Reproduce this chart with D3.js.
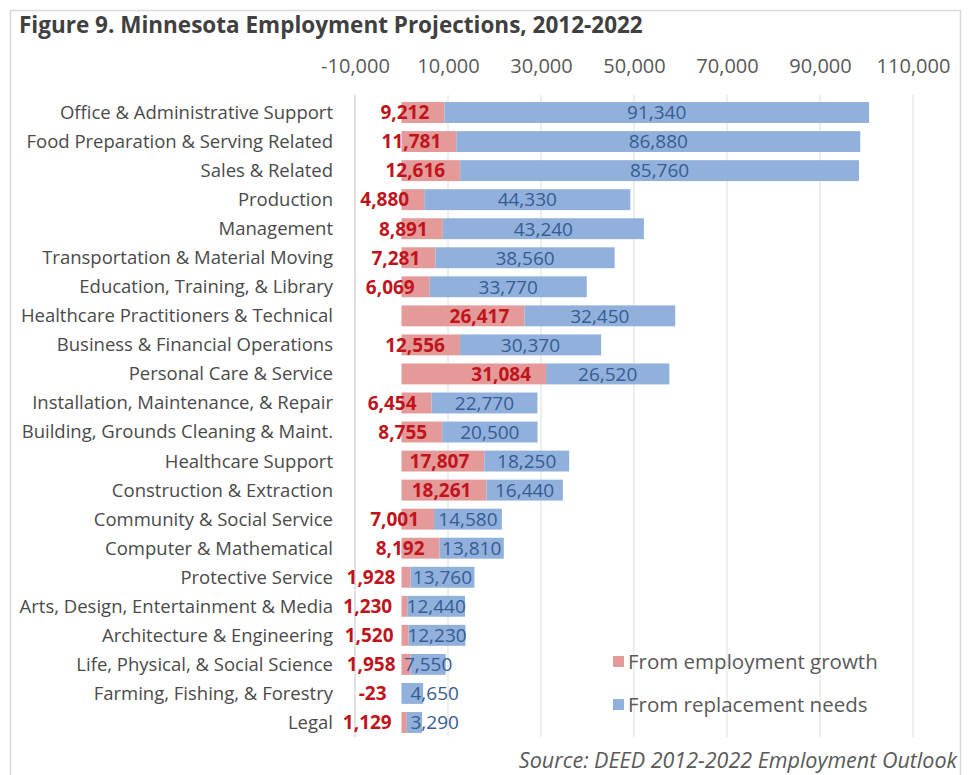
<!DOCTYPE html>
<html>
<head>
<meta charset="utf-8">
<script src="https://cdn.jsdelivr.net/npm/d3@7"></script>
<style>
  html, body { margin: 0; padding: 0; background: #fff; }
  svg { display: block; font-family: "Open Sans", Lato, sans-serif; }
</style>
</head>
<body>
<svg id="chart" width="970" height="775"></svg>
<script>
// Occupational groups, largest total openings first
const categories = [
  "Office & Administrative Support",
  "Food Preparation & Serving Related",
  "Sales & Related",
  "Production",
  "Management",
  "Transportation & Material Moving",
  "Education, Training, & Library",
  "Healthcare Practitioners & Technical",
  "Business & Financial Operations",
  "Personal Care & Service",
  "Installation, Maintenance, & Repair",
  "Building, Grounds Cleaning & Maint.",
  "Healthcare Support",
  "Construction & Extraction",
  "Community & Social Service",
  "Computer & Mathematical",
  "Protective Service",
  "Arts, Design, Entertainment & Media",
  "Architecture & Engineering",
  "Life, Physical, & Social Science",
  "Farming, Fishing, & Forestry",
  "Legal"
];

// Openings from employment growth
const growth = [9212, 11781, 12616, 4880, 8891, 7281, 6069, 26417, 12556, 31084,
                6454, 8755, 17807, 18261, 7001, 8192, 1928, 1230, 1520, 1958, -23, 1129];

// Openings from replacement needs
const replacement = [91340, 86880, 85760, 44330, 43240, 38560, 33770, 32450, 30370, 26520,
                     22770, 20500, 18250, 16440, 14580, 13810, 13760, 12440, 12230, 7550, 4650, 3290];

const tickValues = [-10000, 10000, 30000, 50000, 70000, 90000, 110000];
const seriesNames = ["From employment growth", "From replacement needs"];

const RED = "#e59a9a", BLUE = "#91b1dc";
const RED_TEXT = "#c0141c", BLUE_TEXT = "#365c93";

const svg = d3.select("#chart");
// plain hyphen for negatives
const fmt = d3.formatLocale({ decimal: ".", thousands: ",", grouping: [3], currency: ["$", ""], minus: "-" }).format(",");

// chart frame
svg.append("path")
  .attr("d", "M10.5,775 V10.5 H960.5 V775")
  .attr("fill", "none").attr("stroke", "#d9d9d9").attr("stroke-width", 1.5);

svg.append("text")
  .attr("x", 19).attr("y", 33)
  .attr("font-size", 22.5).attr("font-weight", 700).attr("fill", "#404040")
  .text("Figure 9. Minnesota Employment Projections, 2012-2022");

const x = d3.scaleLinear().domain([-10000, 110000]).range([355, 913]);
const y = d3.scaleBand().domain(categories).range([98, 737]).paddingInner(0.28).paddingOuter(0.14);

// vertical gridlines
svg.append("g").selectAll("line").data(tickValues).join("line")
  .attr("x1", d => x(d)).attr("x2", d => x(d))
  .attr("y1", 95).attr("y2", 737)
  .attr("stroke", d => d === -10000 ? "#c6c6c6" : "#dedede").attr("stroke-width", 1);

// top value axis
const axis = svg.append("g").attr("transform", "translate(0,73)")
  .call(d3.axisTop(x).tickValues(tickValues).tickFormat(fmt).tickSize(0).tickPadding(0));
axis.select(".domain").remove();
axis.selectAll("text")
  .attr("font-family", "'Open Sans', Lato, sans-serif")
  .attr("font-size", 20).attr("fill", "#595959");

// category labels
svg.append("g").selectAll("text").data(categories).join("text")
  .attr("x", 333).attr("y", d => y(d) + y.bandwidth() / 2)
  .attr("dy", "0.35em").attr("text-anchor", "end")
  .attr("font-size", 18.5).attr("fill", "#4a4a4a")
  .text(d => d);

const rows = categories.map((c, i) => ({ c, g: growth[i], r: replacement[i] }));

// growth segments (negative values extend left of zero)
svg.append("g").selectAll("rect").data(rows).join("rect")
  .attr("x", d => x(Math.min(0, d.g)))
  .attr("width", d => Math.abs(x(d.g) - x(0)))
  .attr("y", d => y(d.c)).attr("height", y.bandwidth())
  .attr("fill", RED);

// replacement segments stacked on positive growth
const base = d => Math.max(0, d.g);
svg.append("g").selectAll("rect").data(rows).join("rect")
  .attr("x", d => x(base(d)))
  .attr("width", d => x(base(d) + d.r) - x(base(d)))
  .attr("y", d => y(d.c)).attr("height", y.bandwidth())
  .attr("fill", BLUE);

// growth labels near the end of the red segment
svg.append("g").selectAll("text").data(rows).join("text")
  .attr("x", d => x(Math.max(0, d.g)) - 15)
  .attr("y", d => y(d.c) + y.bandwidth() / 2)
  .attr("dy", "0.36em").attr("text-anchor", "end")
  .attr("font-size", 19).attr("font-weight", 700).attr("fill", RED_TEXT)
  .text(d => fmt(d.g));

// replacement labels centred in the blue segment
svg.append("g").selectAll("text").data(rows).join("text")
  .each(function (d) {
    const x0 = x(base(d)), x1 = x(base(d) + d.r);
    const narrow = x1 - x0 < 25;
    d3.select(this)
      .attr("x", narrow ? x(0) + 9 : (x0 + x1) / 2)
      .attr("text-anchor", narrow ? "start" : "middle");
  })
  .attr("y", d => y(d.c) + y.bandwidth() / 2)
  .attr("dy", "0.36em")
  .attr("font-size", 19).attr("fill", BLUE_TEXT)
  .text(d => fmt(d.r));

// legend
const legend = svg.append("g");
[RED, BLUE].forEach((col, i) => {
  const ly = 662 + i * 43;
  legend.append("rect").attr("x", 613).attr("y", ly - 6).attr("width", 11).attr("height", 11).attr("fill", col);
  legend.append("text").attr("x", 628).attr("y", ly).attr("dy", "0.35em")
    .attr("font-size", 20.5).attr("fill", "#595959").text(seriesNames[i]);
});

svg.append("text")
  .attr("x", 957).attr("y", 768).attr("text-anchor", "end")
  .attr("font-size", 21.5).attr("font-style", "italic").attr("fill", "#595959")
  .text("Source: DEED 2012-2022 Employment Outlook");
</script>
</body>
</html>
